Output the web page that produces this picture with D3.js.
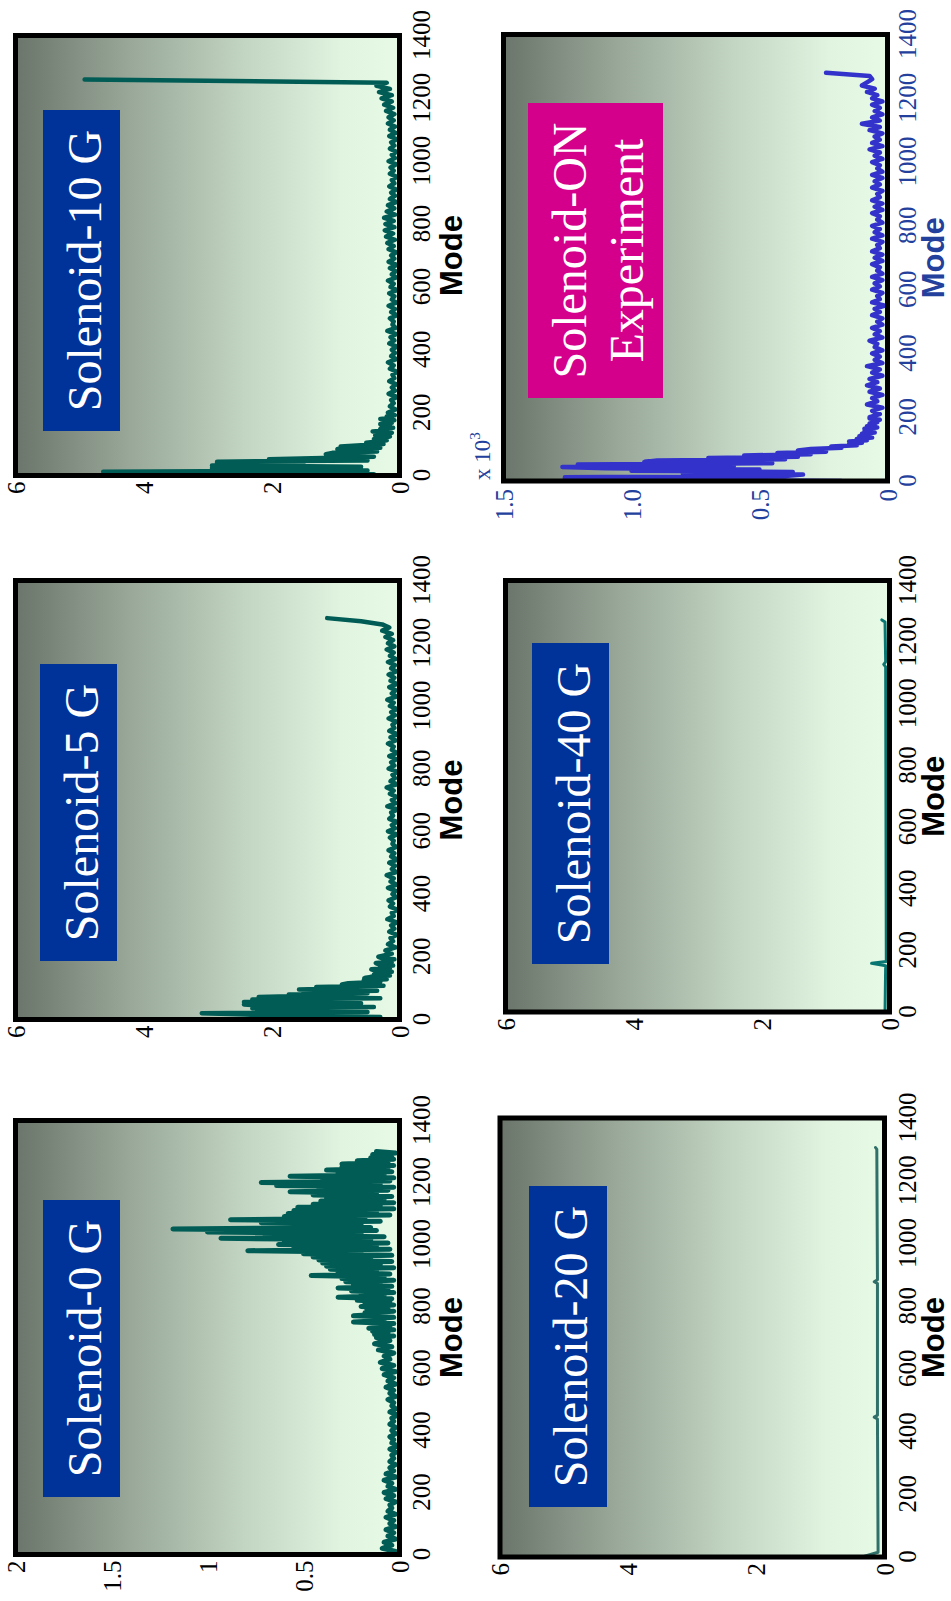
<!DOCTYPE html>
<html>
<head>
<meta charset="utf-8">
<script src="https://cdn.jsdelivr.net/npm/d3@7"></script>
<style>
  html, body { margin: 0; padding: 0; background: #ffffff; }
  svg { display: block; }
</style>
</head>
<body>
<svg id="fig" width="951" height="1601"></svg>
<script>
// ---------------------------------------------------------------
// Data: modal amplitude versus mode number for six cases
// ---------------------------------------------------------------
const modeTicks = [0, 200, 400, 600, 800, 1000, 1200, 1400];
const modeTickLabels = ["0", "200", "400", "600", "800", "1000", "1200", "1400"];

const ticks0G = [0, 0.5, 1, 1.5, 2];
const tickLabels0G = ["0", "0.5", "1", "1.5", "2"];
const ticks6 = [0, 2, 4, 6];
const tickLabels6 = ["0", "2", "4", "6"];
const ticksON = [0, 0.5, 1.0, 1.5];
const tickLabelsON = ["0", "0.5", "1.0", "1.5"];

const titles = ["Solenoid-0 G", "Solenoid-5 G", "Solenoid-10 G", "Solenoid-20 G", "Solenoid-40 G"];
const titleON = ["Solenoid-ON", "Experiment"];

// Solenoid-0 G: every 10 modes up to 690, every 5 modes from 700
const modes0G = d3.range(0, 700, 10).concat(d3.range(700, 1301, 5));
const amp0G = [
  0.06,0.02,0.09,0.04,0.08,0.02,0.06,0.03,0.07,0.02,
  0.05,0.03,0.07,0.02,0.06,0.04,0.05,0.02,0.07,0.03,
  0.08,0.02,0.06,0.04,0.08,0.02,0.07,0.03,0.05,0.02,
  0.05,0.03,0.04,0.02,0.05,0.01,0.04,0.03,0.05,0.02,
  0.04,0.02,0.05,0.03,0.04,0.01,0.05,0.02,0.04,0.03,
  0.06,0.02,0.05,0.03,0.07,0.02,0.06,0.03,0.08,0.02,
  0.09,0.03,0.10,0.05,0.08,0.03,0.11,0.04,0.13,0.05,
  0.12,
  0.03,0.13,0.06,0.14,0.03,0.16,0.05,0.12,0.03,0.24,
  0.08,0.15,0.03,0.24,0.10,0.18,0.03,0.17,0.06,0.20,
  0.03,0.18,0.05,0.22,0.04,0.32,0.08,0.20,0.03,0.25,
  0.06,0.32,0.04,0.24,0.10,0.28,0.03,0.30,0.08,0.46,
  0.05,0.32,0.12,0.36,0.03,0.38,0.10,0.40,0.04,0.42,
  0.15,0.45,0.04,0.50,0.20,0.79,0.05,0.55,0.12,0.63,
  0.06,0.60,0.15,0.93,0.08,0.70,0.20,1.00,0.12,1.18,
  0.15,0.62,0.20,0.72,0.10,0.88,0.18,0.60,0.05,0.58,
  0.12,0.55,0.03,0.53,0.10,0.45,0.03,0.41,0.08,0.38,
  0.04,0.45,0.12,0.57,0.06,0.42,0.03,0.64,0.10,0.72,
  0.05,0.40,0.03,0.57,0.08,0.32,0.04,0.38,0.06,0.30,
  0.03,0.30,0.06,0.22,0.03,0.15,0.04,0.14,0.02,0.12
];

// Solenoid-5 G, Solenoid-10 G and experiment:
// every 4 modes below 200, every 10 modes above
const modeGrid = d3.range(0, 200, 4).concat(d3.range(200, 1301, 10));
const amp5G = [
  0.20,1.40,0.30,2.00,2.40,3.09,0.50,2.20,1.20,2.30,
  0.40,2.10,2.43,0.60,2.43,1.50,2.30,0.30,2.20,1.40,
  1.73,0.50,1.50,0.35,1.57,0.80,1.30,0.25,0.90,0.80,
  0.30,0.56,0.20,0.55,0.45,0.15,0.40,0.30,0.12,0.38,
  0.44,0.15,0.30,0.10,0.32,0.37,0.12,0.25,0.08,0.28,
  0.33,0.12,0.22,0.06,0.18,0.10,0.14,0.04,0.16,0.08,
  0.13,0.04,0.19,0.09,0.12,0.03,0.15,0.10,0.17,0.05,
  0.11,0.06,0.18,0.04,0.14,0.09,0.20,0.05,0.12,0.07,
  0.16,0.03,0.13,0.08,0.17,0.05,0.11,0.09,0.15,0.04,
  0.18,0.07,0.12,0.04,0.16,0.10,0.13,0.03,0.19,0.06,
  0.12,0.05,0.15,0.09,0.20,0.04,0.14,0.07,0.11,0.03,
  0.17,0.08,0.13,0.05,0.16,0.04,0.12,0.09,0.18,0.06,
  0.14,0.03,0.16,0.08,0.11,0.05,0.17,0.07,0.13,0.04,
  0.15,0.09,0.19,0.05,0.12,0.06,0.16,0.04,0.14,0.08,
  0.17,0.05,0.13,0.07,0.18,0.06,0.15,0.09,0.20,0.08,
  0.18,0.10,0.22,0.12,0.27,0.16,0.27,0.60,1.13
];
const amp10G = [
  4.55,0.40,2.50,4.63,0.50,1.90,2.93,0.60,2.93,1.50,
  2.85,2.85,0.50,2.04,1.20,0.40,1.10,1.15,1.05,0.35,
  0.90,0.97,0.30,0.92,0.60,0.25,0.52,0.35,0.20,0.40,
  0.28,0.15,0.38,0.22,0.12,0.42,0.18,0.30,0.10,0.28,
  0.15,0.30,0.12,0.25,0.08,0.30,0.12,0.20,0.07,0.16,
  0.18,0.06,0.15,0.09,0.13,0.04,0.17,0.07,0.12,0.05,
  0.16,0.08,0.11,0.04,0.15,0.09,0.18,0.05,0.13,0.07,
  0.12,0.04,0.16,0.08,0.14,0.05,0.19,0.06,0.11,0.09,
  0.15,0.04,0.13,0.07,0.17,0.05,0.12,0.08,0.16,0.04,
  0.14,0.09,0.18,0.05,0.12,0.06,0.15,0.04,0.17,0.08,
  0.13,0.05,0.17,0.09,0.19,0.07,0.21,0.10,0.23,0.08,
  0.22,0.09,0.24,0.07,0.20,0.08,0.18,0.05,0.15,0.07,
  0.13,0.05,0.16,0.08,0.12,0.04,0.15,0.09,0.14,0.05,
  0.17,0.07,0.12,0.05,0.15,0.08,0.13,0.04,0.16,0.06,
  0.15,0.07,0.18,0.09,0.17,0.08,0.21,0.10,0.24,0.12,
  0.28,0.12,0.32,0.15,0.36,0.20,4.92
];
// Experiment (units of 10^3)
const ampON = [
  0.18,0.90,1.26,1.26,0.40,0.33,0.80,0.37,1.00,0.50,
  1.10,1.27,0.60,1.21,0.45,0.95,0.90,0.40,0.70,0.35,
  0.56,0.30,0.43,0.24,0.35,0.30,0.18,0.22,0.12,0.15,
  0.10,0.15,0.08,0.12,0.06,0.11,0.07,0.10,0.05,0.09,
  0.06,0.09,0.04,0.08,0.05,0.07,0.04,0.06,0.03,0.07,
  0.07,0.03,0.06,0.02,0.08,0.04,0.06,0.02,0.07,0.03,
  0.08,0.04,0.07,0.02,0.06,0.03,0.08,0.02,0.05,0.03,
  0.06,0.02,0.05,0.04,0.07,0.02,0.05,0.03,0.06,0.02,
  0.04,0.02,0.06,0.03,0.05,0.01,0.06,0.03,0.04,0.02,
  0.06,0.03,0.05,0.02,0.06,0.02,0.04,0.03,0.06,0.02,
  0.05,0.02,0.06,0.03,0.04,0.02,0.06,0.02,0.05,0.03,
  0.06,0.02,0.04,0.03,0.06,0.02,0.05,0.02,0.06,0.03,
  0.04,0.02,0.06,0.03,0.05,0.02,0.06,0.02,0.04,0.03,
  0.06,0.02,0.05,0.03,0.07,0.02,0.06,0.03,0.05,0.02,
  0.07,0.03,0.10,0.03,0.06,0.02,0.05,0.03,0.06,0.02,
  0.06,0.04,0.08,0.05,0.10,0.08,0.06,0.07,0.24
];

// Solenoid-20 G and 40 G: nearly flat, with a few small blips
const modes20G = [0, 15, 440, 446, 452, 872, 878, 884, 1300, 1306];
const amp20G   = [0.35, 0.10, 0.11, 0.16, 0.11, 0.11, 0.16, 0.11, 0.12, 0.14];
const modes40G = [0, 150, 158, 164, 1120, 1128, 1136, 1265, 1272];
const amp40G   = [0.07, 0.06, 0.28, 0.05, 0.06, 0.09, 0.06, 0.07, 0.12];

// ---------------------------------------------------------------
// Layout (drawn in a landscape frame, then turned a quarter turn)
// frame / box: [x0, y0, x1, y1] in landscape pixels
// tickY / titleY: baselines of the mode tick labels and of "Mode"
// ---------------------------------------------------------------
const pair = (m, v) => m.slice(0, Math.min(m.length, v.length)).map((d, i) => [d, v[i]]);

const TEAL = "#005c55";
const AXIS_BLUE = "#22409c";
const TOP = { tickY: 430, titleY: 462 };
const BOTTOM = { tickY: 916, titleY: 944 };
const panels = [
  { frame: [46.5, 15.5, 480.5, 399.5],   box: [104, 43, 401, 120],   boxFill: "#003399", lines: [titles[0]], row: TOP,
    series: pair(modes0G, amp0G),   vmax: 2,   ticks: ticks0G, tickLabels: tickLabels0G, color: TEAL, sw: 5,  axis: "#000" },
  { frame: [581.5, 15.5, 1020.5, 399.5], box: [640, 40, 937, 117],   boxFill: "#003399", lines: [titles[1]], row: TOP,
    series: pair(modeGrid, amp5G),  vmax: 6,   ticks: ticks6,  tickLabels: tickLabels6,  color: TEAL, sw: 4.5, axis: "#000" },
  { frame: [1125.5, 15.5, 1565.5, 399.5], box: [1170, 43, 1491, 120], boxFill: "#003399", lines: [titles[2]], row: TOP,
    series: pair(modeGrid, amp10G), vmax: 6,   ticks: ticks6,  tickLabels: tickLabels6,  color: TEAL, sw: 4.5, axis: "#000" },
  { frame: [44, 500, 483, 884.5],        box: [94, 529, 415, 607],   boxFill: "#003399", lines: [titles[3]], row: BOTTOM,
    series: pair(modes20G, amp20G), vmax: 6,   ticks: ticks6,  tickLabels: tickLabels6,  color: "#30706b", sw: 3, axis: "#000" },
  { frame: [589, 505.5, 1020.5, 889.5],  box: [637, 532, 958, 609],  boxFill: "#003399", lines: [titles[4]], row: BOTTOM,
    series: pair(modes40G, amp40G), vmax: 6,   ticks: ticks6,  tickLabels: tickLabels6,  color: "#0a7672", sw: 3, axis: "#000" },
  { frame: [1120, 503.5, 1566.5, 887.5], box: [1203, 528, 1498, 663], boxFill: "#d4008c", lines: titleON, row: BOTTOM,
    series: pair(modeGrid, ampON),  vmax: 1.5, ticks: ticksON, tickLabels: tickLabelsON, color: "#3333cc", sw: 4.5, axis: AXIS_BLUE, exp: true }
];

const SERIF = "'Liberation Serif', 'Times New Roman', serif";
const SANS = "'Liberation Sans', Arial, sans-serif";

const svg = d3.select("#fig");
const defs = svg.append("defs");
const grad = defs.append("linearGradient")
  .attr("id", "panelShade")
  .attr("x1", 0).attr("y1", 0).attr("x2", 0).attr("y2", 1);
[[0, "#6b756b"], [0.3, "#99a899"], [0.6, "#c3d5c3"], [0.85, "#e0f4e0"], [1, "#e6fae6"]]
  .forEach(([o, c]) => grad.append("stop").attr("offset", o).attr("stop-color", c));

const root = svg.append("g").attr("transform", "translate(0,1601) rotate(-90)");

panels.forEach((p, idx) => {
  const [x0, y0, x1, y1] = p.frame;
  const g = root.append("g").attr("class", "panel");

  const xMode = d3.scaleLinear().domain([0, 1400]).range([x0, x1]);
  const yVal = d3.scaleLinear().domain([0, p.vmax]).range([y1, y0]);

  // shaded plot area
  g.append("rect")
    .attr("x", x0).attr("y", y0)
    .attr("width", x1 - x0).attr("height", y1 - y0)
    .attr("fill", "url(#panelShade)");

  // title box
  const [bx0, by0, bx1, by1] = p.box;
  g.append("rect")
    .attr("x", bx0).attr("y", by0)
    .attr("width", bx1 - bx0).attr("height", by1 - by0)
    .attr("fill", p.boxFill);
  p.lines.forEach((t, i) => {
    g.append("text")
      .attr("x", (bx0 + bx1) / 2)
      .attr("y", by0 + 57.5 + i * 57)
      .attr("text-anchor", "middle")
      .attr("font-family", SERIF)
      .attr("font-size", 48)
      .attr("fill", "#ffffff")
      .text(t);
  });

  // amplitude trace
  const clipId = "clip" + idx;
  defs.append("clipPath").attr("id", clipId)
    .append("rect").attr("x", x0).attr("y", y0 - 2).attr("width", x1 - x0).attr("height", y1 - y0 + 2);
  const line = d3.line().x(d => xMode(d[0])).y(d => yVal(d[1]));
  g.append("path")
    .datum(p.series)
    .attr("clip-path", `url(#${clipId})`)
    .attr("d", line)
    .attr("fill", "none")
    .attr("stroke", p.color)
    .attr("stroke-width", p.sw)
    .attr("stroke-linejoin", "round")
    .attr("stroke-linecap", "round");

  // frame
  g.append("rect")
    .attr("x", x0).attr("y", y0)
    .attr("width", x1 - x0).attr("height", y1 - y0)
    .attr("fill", "none")
    .attr("stroke", "#000")
    .attr("stroke-width", 5);

  // mode axis
  const ax = g.append("g").attr("transform", `translate(0,${y1})`)
    .call(d3.axisBottom(xMode).tickValues(modeTicks)
      .tickFormat((d, i) => modeTickLabels[i]).tickSize(0).tickPadding(0));
  ax.select(".domain").remove();
  ax.selectAll("text")
    .attr("y", p.row.tickY - y1).attr("dy", null)
    .attr("font-family", SERIF).attr("font-size", 25)
    .attr("fill", p.axis);

  // amplitude axis
  const ay = g.append("g").attr("transform", `translate(${x0},0)`)
    .call(d3.axisLeft(yVal).tickValues(p.ticks)
      .tickFormat((d, i) => p.tickLabels[i]).tickSize(0).tickPadding(p.exp ? 8 : 6));
  ay.select(".domain").remove();
  ay.selectAll("text")
    .attr("dy", "0.34em")
    .attr("font-family", SERIF).attr("font-size", 25)
    .attr("fill", p.axis);

  // axis title
  g.append("text")
    .attr("x", (x0 + x1) / 2)
    .attr("y", p.row.titleY)
    .attr("text-anchor", "middle")
    .attr("font-family", SANS)
    .attr("font-weight", "bold")
    .attr("font-size", 31)
    .attr("fill", p.axis)
    .text("Mode");

  // scale multiplier for the experimental trace
  if (p.exp) {
    const m = g.append("text")
      .attr("x", x0 + 1)
      .attr("y", y0 - 13.5)
      .attr("font-family", SERIF)
      .attr("font-size", 23)
      .attr("fill", p.axis);
    m.append("tspan").text("x 10");
    m.append("tspan").attr("dy", -10).attr("font-size", 15).text("3");
  }
});
</script>
</body>
</html>
